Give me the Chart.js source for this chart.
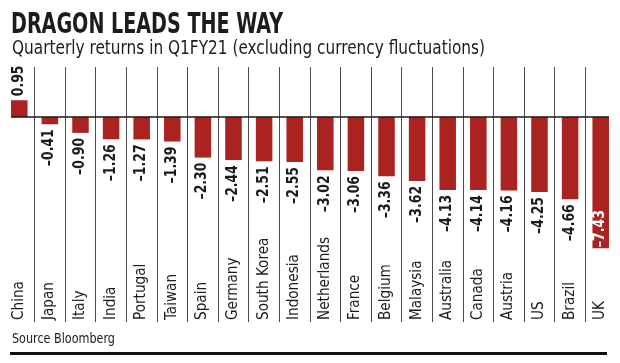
<!DOCTYPE html>
<html>
<head>
<meta charset="utf-8">
<script src="https://cdn.jsdelivr.net/npm/chart.js@4.4.1/dist/chart.umd.min.js"></script>
<style>
    body {
        margin: 0;
        width: 620px;
        height: 363px;
        overflow: hidden;
        position: relative;
        background: #fff;
        color: #1c1c1c;
        font-family: "Liberation Sans Narrow", "DejaVu Sans Condensed", sans-serif;
    }
    canvas { position: absolute; left: 0; top: 0; }
    .txt {
        position: absolute;
        white-space: nowrap;
        line-height: 1;
        transform-origin: 0 0;
    }
    #title { left: 11px; top: 10px; font-size: 28px; font-weight: bold; }
    #subtitle { left: 12px; top: 38px; font-size: 19px; }
    #source { left: 12px; top: 331px; font-size: 14px; }
    #rule { position: absolute; left: 10px; top: 352px; width: 597px; height: 3px; background: #111; }
</style>
</head>
<body>
<canvas id="chart" width="620" height="363"></canvas>
<div id="title" class="txt" data-w="272">DRAGON LEADS THE WAY</div>
<div id="subtitle" class="txt" data-w="473">Quarterly returns in Q1FY21 (excluding currency fluctuations)</div>
<div id="source" class="txt" data-w="103">Source Bloomberg</div>
<div id="rule"></div>
<script>
const countries = ['China', 'Japan', 'Italy', 'India', 'Portugal', 'Taiwan', 'Spain', 'Germany', 'South Korea', 'Indonesia',
    'Netherlands', 'France', 'Belgium', 'Malaysia', 'Australia', 'Canada', 'Austria', 'US', 'Brazil', 'UK'];
const returns = [0.95, -0.41, -0.90, -1.26, -1.27, -1.39, -2.30, -2.44, -2.51, -2.55,
    -3.02, -3.06, -3.36, -3.62, -4.13, -4.14, -4.16, -4.25, -4.66, -7.43];

const FONT = '"Liberation Sans Narrow", "DejaVu Sans Condensed", sans-serif';
const VALUE_FONT = 'bold 16px ' + FONT;
const NAME_FONT = '15px ' + FONT;
const barColor = '#ab2320';

// squeeze the heading texts to the widths seen in the print
document.querySelectorAll('.txt').forEach((el) => {
    const w = el.getBoundingClientRect().width;
    el.style.transform = `scaleX(${el.dataset.w / w})`;
});

const fmt = (v) => v.toFixed(2).replace('-', '\u2013');

const labelsPlugin = {
    id: 'labels',
    afterDatasetsDraw(chart) {
        const { ctx, chartArea, scales } = chart;
        const bars = chart.getDatasetMeta(0).data;
        const zeroY = scales.y.getPixelForValue(0);

        // the print uses a narrower face, so stretch along the text to match
        ctx.font = VALUE_FONT;
        const valueSx = 37 / ctx.measureText(fmt(-0.41)).width;
        ctx.font = NAME_FONT;
        const nameSx = 83 / ctx.measureText('Netherlands').width;

        // zero line
        ctx.save();
        ctx.strokeStyle = '#1a1a1a';
        ctx.lineWidth = 1.5;
        ctx.beginPath();
        ctx.moveTo(bars[0].x - bars[0].width / 2, zeroY);
        ctx.lineTo(bars[bars.length - 1].x + bars[bars.length - 1].width / 2, zeroY);
        ctx.stroke();
        ctx.restore();

        bars.forEach((bar, i) => {
            const v = returns[i];

            // value label
            ctx.save();
            ctx.font = VALUE_FONT;
            ctx.textBaseline = 'alphabetic';
            ctx.fillStyle = '#1c1c1c';
            let y;
            if (v >= 0) {
                y = bar.y - 4;
                ctx.textAlign = 'left';
            } else if (v < -6) {
                // no room below, goes inside the bar
                y = bar.y - 1;
                ctx.textAlign = 'left';
                ctx.fillStyle = '#fff';
            } else {
                y = bar.y + 5;
                ctx.textAlign = 'right';
            }
            ctx.translate(bar.x + 3.5, y);
            ctx.rotate(-Math.PI / 2);
            ctx.scale(valueSx, 1);
            ctx.fillText(fmt(v), 0, 0);
            ctx.restore();

            // country label
            ctx.save();
            ctx.font = NAME_FONT;
            ctx.fillStyle = '#1c1c1c';
            ctx.textAlign = 'left';
            ctx.textBaseline = 'alphabetic';
            ctx.translate(bar.x + 3.5, chartArea.bottom - 2);
            ctx.rotate(-Math.PI / 2);
            ctx.scale(nameSx, 1);
            ctx.fillText(countries[i], 0, 0);
            ctx.restore();
        });
    }
};

new Chart(document.getElementById('chart'), {
    type: 'bar',
    data: {
        labels: countries,
        datasets: [{
            data: returns,
            backgroundColor: barColor,
            borderWidth: 0,
            barPercentage: 0.54,
            categoryPercentage: 1
        }]
    },
    options: {
        responsive: false,
        devicePixelRatio: 1,
        animation: false,
        layout: { padding: { top: 67, bottom: 41, left: 4, right: 4 } },
        plugins: {
            legend: { display: false },
            tooltip: { enabled: false }
        },
        scales: {
            x: {
                ticks: { display: false },
                border: { display: false },
                grid: {
                    offset: true,
                    drawTicks: false,
                    lineWidth: 1,
                    // only the lines between countries, not the outer edges
                    color: (c) => (c.type === 'tick' && c.index > 0) ? '#4a4a4a' : 'rgba(0,0,0,0)'
                }
            },
            y: {
                display: false,
                min: -11.615,
                max: 2.833
            }
        }
    },
    plugins: [labelsPlugin]
});
</script>
</body>
</html>
